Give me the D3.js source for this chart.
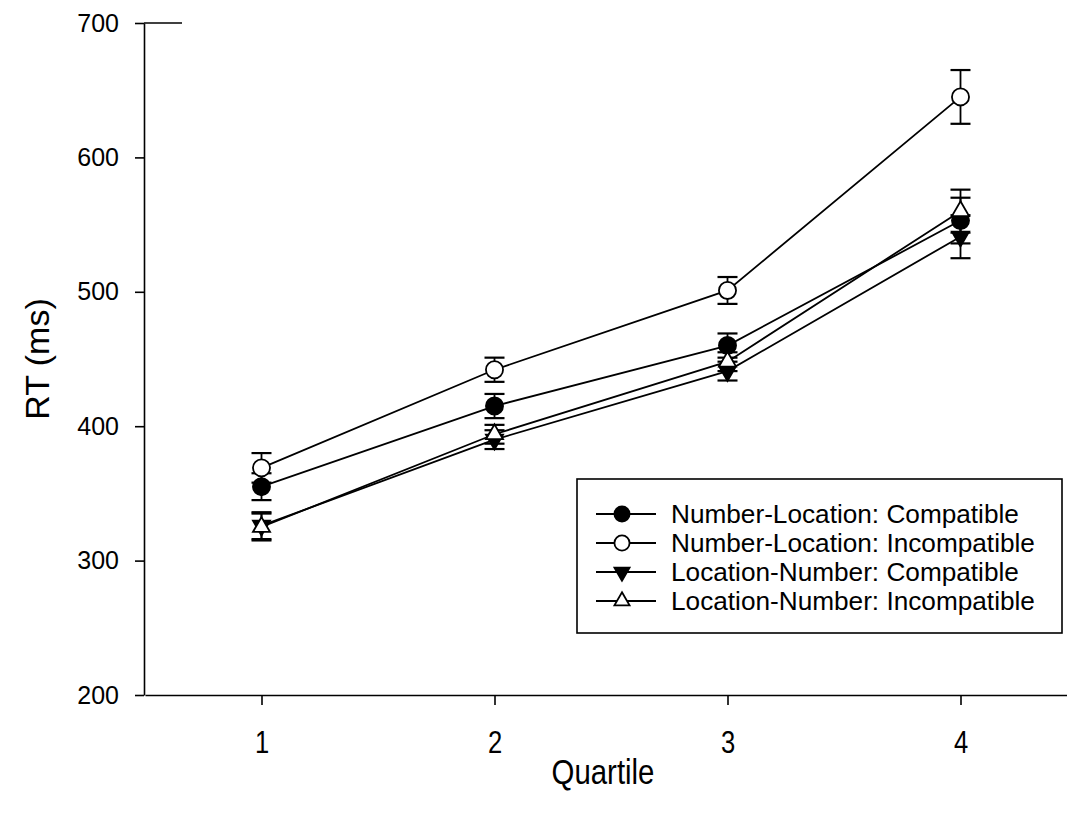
<!DOCTYPE html>
<html>
<head>
<meta charset="utf-8">
<script src="https://cdn.jsdelivr.net/npm/d3@7"></script>
<style>
  body { margin: 0; background: #fff; }
  svg { display: block; font-family: "Liberation Sans", Arial, sans-serif; }
</style>
</head>
<body>
<svg id="chart" width="1067" height="814"></svg>
<script>
// data (RT in ms, error = half bar length)
const quartiles = [1, 2, 3, 4];
const nlCompatible = [355, 415, 460, 553];
const nlCompatibleErr = [10, 9, 9, 17];
const nlIncompatible = [369, 442, 501, 645];
const nlIncompatibleErr = [11, 9, 10, 20];
const lnCompatible = [326, 390, 441, 541];
const lnCompatibleErr = [10, 7, 7, 16];
const lnIncompatible = [325, 394, 448, 560];
const lnIncompatibleErr = [10, 7, 7, 16];
const yTicks = [200, 300, 400, 500, 600, 700];

const series = [
  { name: "Number-Location: Compatible", values: nlCompatible, err: nlCompatibleErr, shape: "circle", fill: "#000" },
  { name: "Number-Location: Incompatible", values: nlIncompatible, err: nlIncompatibleErr, shape: "circle", fill: "#fff" },
  { name: "Location-Number: Compatible", values: lnCompatible, err: lnCompatibleErr, shape: "down", fill: "#000" },
  { name: "Location-Number: Incompatible", values: lnIncompatible, err: lnIncompatibleErr, shape: "up", fill: "#fff" }
];

const svg = d3.select("#chart");

const x = d3.scaleLinear().domain([0.5, 4.5]).range([145, 1077]);
const y = d3.scaleLinear().domain([200, 700]).range([695, 23]);

// y axis
const yAxis = svg.append("g")
  .attr("transform", "translate(144,0)")
  .call(d3.axisLeft(y).tickValues(yTicks).tickSize(9).tickPadding(16).tickSizeOuter(0));
yAxis.select(".domain").attr("stroke", "#000").attr("stroke-width", 1.6);
yAxis.selectAll(".tick line").attr("stroke", "#000").attr("stroke-width", 1.6);
yAxis.selectAll(".tick text").attr("font-size", 25).attr("fill", "#000")
  .attr("font-family", "Liberation Sans, Arial, sans-serif");
// small stub at the top of the y axis
svg.append("line").attr("x1", 144).attr("x2", 182).attr("y1", y(700)).attr("y2", y(700))
  .attr("stroke", "#000").attr("stroke-width", 1.6);

// x axis
const xAxis = svg.append("g")
  .attr("transform", "translate(0,695)")
  .call(d3.axisBottom(x).tickValues(quartiles).tickFormat(d3.format("d")).tickSize(10).tickPadding(25).tickSizeOuter(0));
xAxis.select(".domain").attr("stroke", "#000").attr("stroke-width", 1.6);
xAxis.selectAll(".tick line").attr("stroke", "#000").attr("stroke-width", 1.6);
xAxis.selectAll(".tick text").attr("font-size", 32).attr("fill", "#000")
  .attr("font-family", "Liberation Sans, Arial, sans-serif")
  .attr("transform", "scale(0.8,1)");

// axis titles
svg.append("text")
  .attr("transform", "translate(49," + (y(450)) + ") rotate(-90)")
  .attr("text-anchor", "middle")
  .attr("font-size", 34)
  .text("RT (ms)");

svg.append("text")
  .attr("transform", "translate(603,784) scale(0.84,1)")
  .attr("text-anchor", "middle")
  .attr("font-size", 35)
  .text("Quartile");

function symbolPath(shape, area) {
  if (shape === "circle") return d3.symbol(d3.symbolCircle, area)();
  return d3.symbol(d3.symbolTriangle, area * 0.55)();
}

const line = d3.line()
  .x((d, i) => x(quartiles[i]))
  .y(d => y(d));

// lines first
series.forEach(s => {
  svg.append("path")
    .attr("d", line(s.values))
    .attr("fill", "none")
    .attr("stroke", "#000")
    .attr("stroke-width", 1.8);
});

// error bars and markers, in series order
series.forEach(s => {
  const g = svg.append("g");
  quartiles.forEach((q, i) => {
    const cx = x(q);
    const top = y(s.values[i] + s.err[i]);
    const bot = y(s.values[i] - s.err[i]);
    g.append("line").attr("x1", cx).attr("x2", cx).attr("y1", top).attr("y2", bot)
      .attr("stroke", "#000").attr("stroke-width", 1.8);
    [top, bot].forEach(yy => {
      g.append("line").attr("x1", cx - 10).attr("x2", cx + 10).attr("y1", yy).attr("y2", yy)
        .attr("stroke", "#000").attr("stroke-width", 2.2);
    });
  });
  quartiles.forEach((q, i) => {
    const rot = s.shape === "down" ? " rotate(180)" : "";
    g.append("path")
      .attr("d", symbolPath(s.shape, 230))
      .attr("transform", "translate(" + x(q) + "," + y(s.values[i]) + ")" + rot)
      .attr("fill", s.fill)
      .attr("stroke", "#000")
      .attr("stroke-width", 1.8);
  });
});

// legend
const legend = svg.append("g");
legend.append("rect")
  .attr("x", 577).attr("y", 479).attr("width", 485).attr("height", 154)
  .attr("fill", "#fff").attr("stroke", "#000").attr("stroke-width", 1.6);

series.forEach((s, i) => {
  const ly = 514 + i * 29;
  legend.append("line").attr("x1", 596).attr("x2", 656).attr("y1", ly).attr("y2", ly)
    .attr("stroke", "#000").attr("stroke-width", 1.8);
  const rot = s.shape === "down" ? " rotate(180)" : "";
  legend.append("path")
    .attr("d", symbolPath(s.shape, 180))
    .attr("transform", "translate(622," + ly + ")" + rot)
    .attr("fill", s.fill)
    .attr("stroke", "#000")
    .attr("stroke-width", 1.8);
  legend.append("text")
    .attr("x", 671).attr("y", ly)
    .attr("dy", "0.36em")
    .attr("font-size", 26.2)
    .text(s.name);
});
</script>
</body>
</html>
